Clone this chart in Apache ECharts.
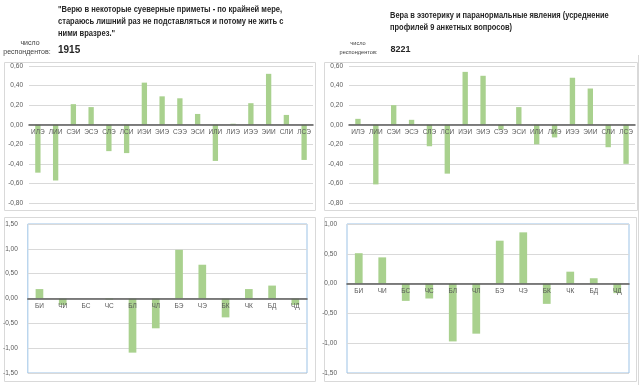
<!DOCTYPE html>
<html><head><meta charset="utf-8">
<script src="https://cdn.jsdelivr.net/npm/echarts@6/dist/echarts.min.js"></script>
<style>html,body{margin:0;padding:0;background:#fff}#c{width:640px;height:385px}</style>
</head><body><div id="c"></div>
<script>
const typeCats = ['ИЛЭ','ЛИИ','СЭИ','ЭСЭ','СЛЭ','ЛСИ','ИЭИ','ЭИЭ','СЭЭ','ЭСИ','ИЛИ','ЛИЭ','ИЭЭ','ЭИИ','СЛИ','ЛСЭ'];
const funcCats = ['БИ','ЧИ','БС','ЧС','БЛ','ЧЛ','БЭ','ЧЭ','БК','ЧК','БД','ЧД'];
const leftTypeValues = [-0.49,-0.57,0.21,0.18,-0.27,-0.29,0.43,0.29,0.27,0.11,-0.37,0.01,0.22,0.52,0.10,-0.36];
const rightTypeValues = [0.06,-0.61,0.20,0.05,-0.22,-0.50,0.54,0.50,-0.05,0.18,-0.20,-0.13,0.48,0.37,-0.23,-0.40];
const leftFuncValues = [0.19,-0.13,0.00,-0.02,-1.09,-0.60,0.98,0.68,-0.38,0.19,0.26,-0.13];
const rightFuncValues = [0.51,0.44,-0.29,-0.25,-0.97,-0.84,0.72,0.86,-0.34,0.20,0.09,-0.16];
const leftTitle = ['"Верю в некоторые суеверные приметы - по крайней мере,','стараюсь лишний раз не подставляться и потому не жить с','ними вразрез."'];
const rightTitle = ['Вера в эзотерику и паранормальные явления (усреднение','профилей 9 анкетных вопросов)'];
const leftN = '1915';
const rightN = '8221';

const GREEN = '#a9d18e';
const fmt = v => v.toFixed(2).replace('.', ',');
const FONT = 'Liberation Sans';

const grids = [
  {left:29, top:66, width:284, height:137},
  {left:349, top:66, width:286, height:137},
  {left:26, top:224, width:281, height:149, show:true, borderColor:'#9dc3e6', borderWidth:1},
  {left:347, top:224, width:282, height:149, show:true, borderColor:'#9dc3e6', borderWidth:1}
];
const cats = [typeCats, typeCats, funcCats, funcCats];
const vals = [leftTypeValues, rightTypeValues, leftFuncValues, rightFuncValues];
const ranges = [[-0.8,0.6,0.2],[-0.8,0.6,0.2],[-1.5,1.5,0.5],[-1.5,1.0,0.5]];
const labelMargins = [6,6,10,10];

const xAxis = [], yAxis = [], series = [];
for (let i=0;i<4;i++){
  xAxis.push({type:'category', gridIndex:i, data:cats[i], z:5,
    axisLine:{onZero:true, lineStyle:{color:'#595959', width:1.5}},
    axisTick:{show:false}, axisLabel:{show:false}});
  yAxis.push({type:'value', gridIndex:i, min:ranges[i][0], max:ranges[i][1], interval:ranges[i][2],
    axisLine:{show:false}, axisTick:{show:false},
    splitLine:{lineStyle:{color:'#d9d9d9', width:1}},
    axisLabel:{formatter:fmt, fontSize:6.5, color:'#595959', margin:labelMargins[i], fontFamily:FONT}});
  series.push({type:'bar', xAxisIndex:i, yAxisIndex:i, data:vals[i], barWidth: i<2 ? '30%' : '33%',
    itemStyle:{color:GREEN}, silent:true});
}
// label axes placed at the zero line of each value scale
for (let i=0;i<4;i++){
  const r = ranges[i];
  const zeroOffset = -grids[i].height * (0 - r[0]) / (r[1] - r[0]);
  xAxis.push({type:'category', gridIndex:i, data:cats[i], position:'bottom', offset:zeroOffset, z:6,
    axisLine:{show:false}, axisTick:{show:false}, splitLine:{show:false},
    axisLabel:{interval:0, fontSize:6.5, color:'#595959', margin:4, fontFamily:FONT}});
}

const graphic = [];
function box(x,y,w,h){ graphic.push({type:'rect', shape:{x:x+0.5,y:y+0.5,width:w,height:h}, style:{fill:'none', stroke:'#d9d9d9', lineWidth:1}, z:-1}); }
box(4,62,311,148); box(4,217,311,164); box(324,62,313,148); box(324,217,312,164);
graphic.push({type:'line', shape:{x1:638.5,y1:55,x2:638.5,y2:385}, style:{stroke:'#d9d9d9', lineWidth:1}});
function txt(s,x,y,font,align,fill,sx){ graphic.push({type:'text', x:x, y:y, scaleX:sx||1, style:{text:s, font:font, fill:fill||'#262626', align:align||'left', verticalAlign:'middle'}}); }
leftTitle.forEach((s,k)=>txt(s,58,9.5+k*11.8,'bold 9px '+FONT,'left','#262626',0.84));
rightTitle.forEach((s,k)=>txt(s,390,16+k*12,'bold 9px '+FONT,'left','#262626',0.83));
txt('число',30,43,'7px '+FONT,'center','#404040');
txt('респондентов:',27,52,'7px '+FONT,'center','#404040');
txt(leftN,58,50,'bold 10px '+FONT);
txt('число',358,43,'5.6px '+FONT,'center','#404040');
txt('респондентов:',358.5,52,'5.6px '+FONT,'center','#404040');
txt(rightN,390.5,50,'bold 9px '+FONT);

const chart = echarts.init(document.getElementById('c'), null, {renderer:'canvas'});
chart.setOption({animation:false, grid:grids, xAxis, yAxis, series, graphic});
</script></body></html>
